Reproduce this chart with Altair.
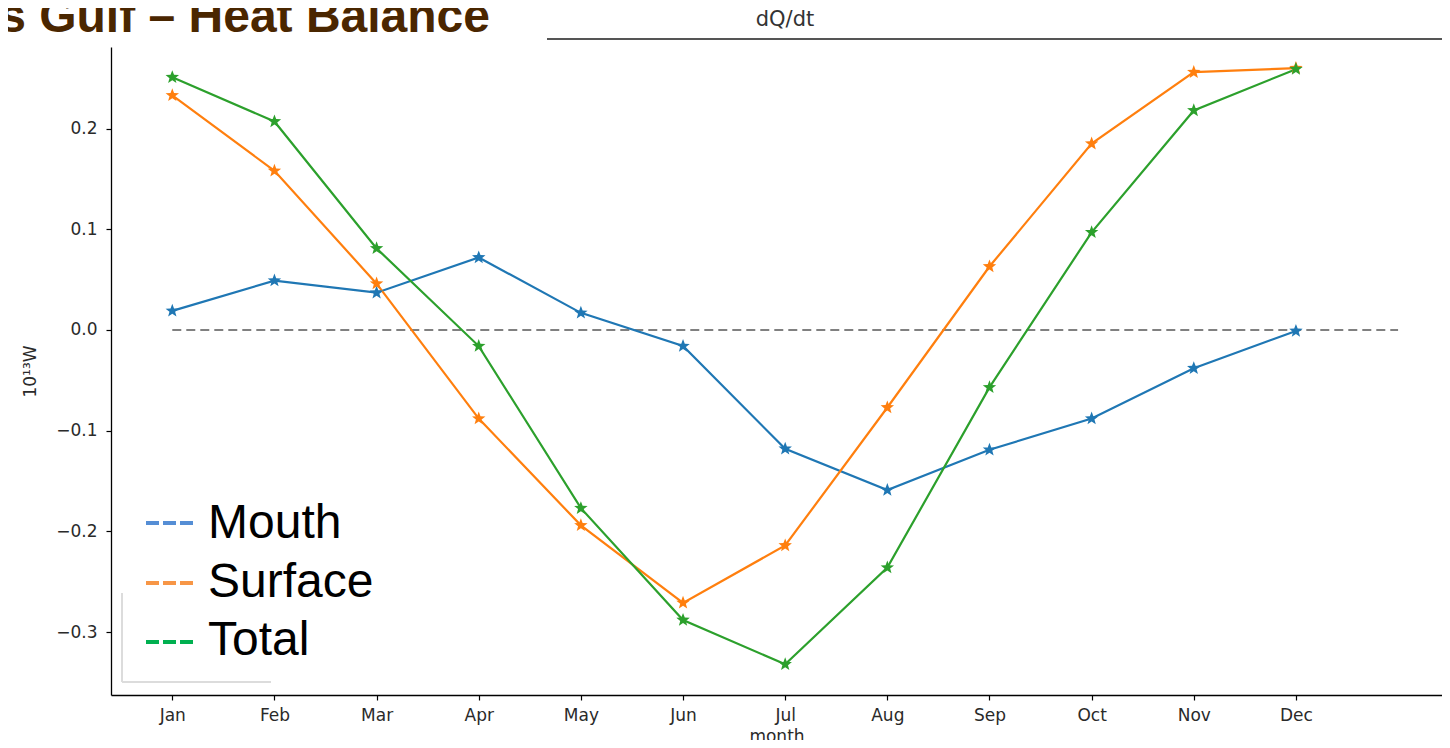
import math
import altair as alt
import pandas as pd

# ---------------- data ----------------
months = ["Jan", "Feb", "Mar", "Apr", "May", "Jun", "Jul", "Aug", "Sep", "Oct", "Nov", "Dec"]
mouth = [0.019, 0.049, 0.037, 0.072, 0.017, -0.016, -0.118, -0.159, -0.119, -0.088, -0.038, -0.001]
surface = [0.233, 0.158, 0.046, -0.088, -0.194, -0.271, -0.214, -0.077, 0.063, 0.185, 0.256, 0.260]
total = [0.251, 0.207, 0.081, -0.016, -0.177, -0.288, -0.332, -0.236, -0.057, 0.097, 0.218, 0.259]
series_names = ["Mouth", "Surface", "Total"]
line_colors = ["#1f77b4", "#ff7f0e", "#2ca02c"]
legend_colors = ["#558ed5", "#f79646", "#00b050"]
zero_x = [0, 12]
zero_y = [0.0, 0.0]
y_ticks = [-0.3, -0.2, -0.1, 0.0, 0.1, 0.2]
slide_title = "s Gulf – Heat Balance"
plot_title = "dQ/dt"

rows = []
for name, vals in zip(series_names, [mouth, surface, total]):
    for i, v in enumerate(vals):
        rows.append({"m": i, "v": v, "series": name})
df = pd.DataFrame(rows)
zero_df = pd.DataFrame({"m": zero_x, "v": zero_y})

# star marker path
pts = []
for i in range(10):
    r = 1.0 if i % 2 == 0 else 0.42
    a = -math.pi / 2 + i * math.pi / 5
    pts.append(f"{r*math.cos(a):.3f},{r*math.sin(a):.3f}")
star = "M" + "L".join(pts) + "Z"

W, H = 1331, 648
label_expr = "[" + ",".join(f"'{m}'" for m in months) + "][datum.value]"

xscale = alt.Scale(domain=[-0.6, 12.43], nice=False, zero=False)
yscale = alt.Scale(domain=[-0.3625, 0.281], nice=False, zero=False)

x_enc = alt.X("m:Q", scale=xscale, axis=alt.Axis(
    values=list(range(12)), labelExpr=label_expr, title="month",
    grid=False, labelFontSize=17, titleFontSize=17, titleFontWeight="normal",
    labelFont="DejaVu Sans", titleFont="DejaVu Sans", tickSize=5, labelPadding=7,
    titlePadding=5, labelColor="#2a2a2a", titleColor="#2a2a2a"))
y_enc = alt.Y("v:Q", scale=yscale, axis=alt.Axis(
    values=y_ticks, format=".1f", title="10¹³W", grid=False,
    labelFontSize=17, titleFontSize=17, titleFontWeight="normal",
    labelFont="DejaVu Sans", titleFont="DejaVu Sans", tickSize=5, labelPadding=9,
    titlePadding=16, labelColor="#2a2a2a", titleColor="#2a2a2a"))

color = alt.Color("series:N", scale=alt.Scale(domain=series_names, range=line_colors), legend=None)

zero_line = alt.Chart(zero_df).mark_line(color="#808080", strokeWidth=2, strokeDash=[9, 5]).encode(x=x_enc, y=y_enc)
lines = alt.Chart(df).mark_line(strokeWidth=2.2).encode(x=x_enc, y=y_enc, color=color, detail="series:N")
points = alt.Chart(df).mark_point(shape=star, filled=True, size=200, opacity=1).encode(x=x_enc, y=y_enc, color=color)

layers = [zero_line, lines, points]

# top rule & titles
layers.append(alt.Chart(pd.DataFrame({"a": [0]})).mark_rule(color="#555", strokeWidth=2).encode(
    x=alt.value(436), x2=alt.value(W), y=alt.value(-8)))
layers.append(alt.Chart(pd.DataFrame({"t": [plot_title]})).mark_text(
    font="DejaVu Sans", fontSize=21, color="#333", align="center", baseline="middle").encode(
    text="t:N", x=alt.value(674), y=alt.value(-27)))
layers.append(alt.Chart(pd.DataFrame({"t": [slide_title]})).mark_text(
    font="Liberation Sans", fontWeight="bold", fontSize=48, color="#4a2600", align="right",
    baseline="alphabetic").encode(text="t:N", x=alt.value(379), y=alt.value(-15)))

# faint old legend frame
layers.append(alt.Chart(pd.DataFrame({"a": [0]})).mark_rule(color="#dcdcdc", strokeWidth=2).encode(
    x=alt.value(11), y=alt.value(546), y2=alt.value(635)))
layers.append(alt.Chart(pd.DataFrame({"a": [0]})).mark_rule(color="#dcdcdc", strokeWidth=2).encode(
    x=alt.value(11), x2=alt.value(160), y=alt.value(635)))

# slide legend
dash_y = [476, 536, 595]
text_y = [491, 550, 608]
for name, col, dy, ty in zip(series_names, legend_colors, dash_y, text_y):
    layers.append(alt.Chart(pd.DataFrame({"a": [0]})).mark_rule(
        color=col, strokeWidth=4, strokeDash=[13, 4]).encode(
        x=alt.value(35), x2=alt.value(82), y=alt.value(dy)))
    layers.append(alt.Chart(pd.DataFrame({"t": [name]})).mark_text(
        font="Liberation Sans", fontSize=48, color="#000", align="left", baseline="alphabetic").encode(
        text="t:N", x=alt.value(97), y=alt.value(ty)))

chart = alt.layer(*layers).properties(
    width=W, height=H,
    autosize=alt.AutoSizeParams(type="none"),
    padding={"left": 103, "top": 39, "right": 0, "bottom": 45},
).configure_view(stroke=None).configure_axis(
    domainColor="#000", domainWidth=1.3, tickColor="#000", tickWidth=1.2
)

chart.save("out.html", embed_options={"renderer": "svg", "actions": False})
